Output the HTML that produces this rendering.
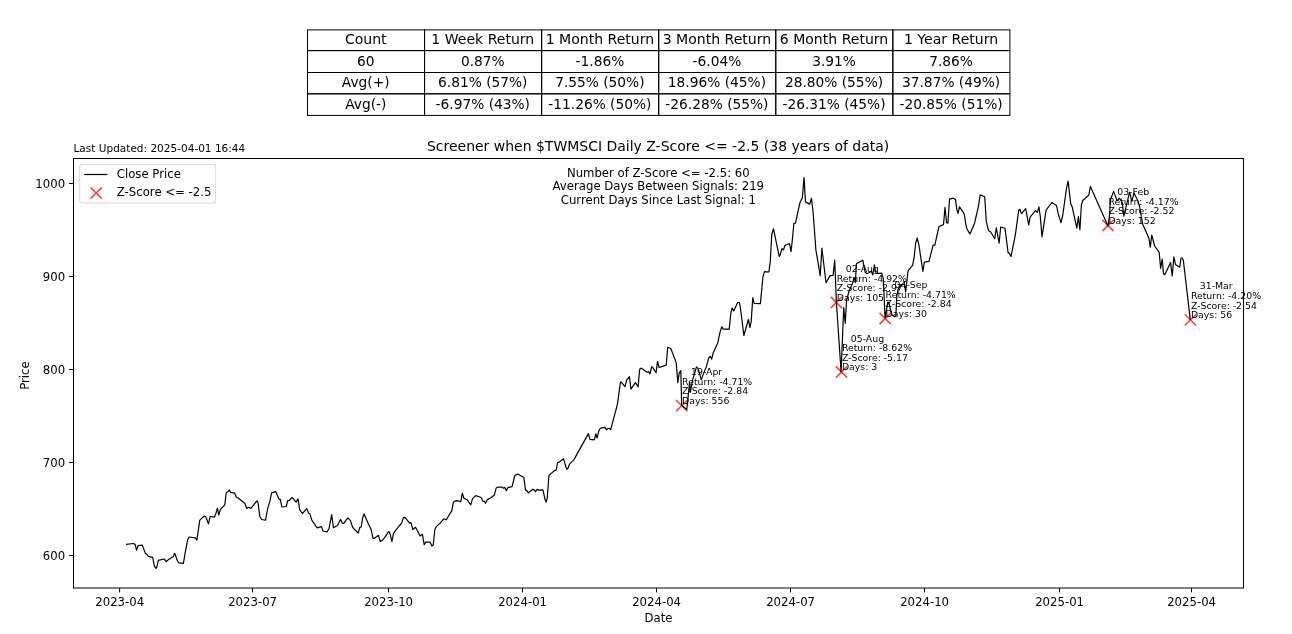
<!DOCTYPE html>
<html lang="en">
<head>
<meta charset="utf-8">
<title>Screener when $TWMSCI Daily Z-Score &lt;= -2.5</title>
<style>
html,body{margin:0;padding:0;background:#fff;}
body{width:1292px;height:634px;overflow:hidden;}
svg{display:block;}
svg text{font-family:"DejaVu Sans", "Liberation Sans", sans-serif;fill:#000;white-space:pre;}
</style>
</head>
<body>
<svg width="1292" height="634" viewBox="0 0 1292 634">
<rect x="0" y="0" width="1292" height="634" fill="#ffffff"/>
<g id="table" stroke="#000" stroke-width="1.0" fill="none">
<rect x="307.50" y="29.90" width="117.07" height="20.70"/>
<rect x="424.57" y="29.90" width="117.07" height="20.70"/>
<rect x="541.63" y="29.90" width="117.07" height="20.70"/>
<rect x="658.70" y="29.90" width="117.07" height="20.70"/>
<rect x="775.77" y="29.90" width="117.07" height="20.70"/>
<rect x="892.83" y="29.90" width="117.07" height="20.70"/>
<rect x="307.50" y="50.60" width="117.07" height="21.90"/>
<rect x="424.57" y="50.60" width="117.07" height="21.90"/>
<rect x="541.63" y="50.60" width="117.07" height="21.90"/>
<rect x="658.70" y="50.60" width="117.07" height="21.90"/>
<rect x="775.77" y="50.60" width="117.07" height="21.90"/>
<rect x="892.83" y="50.60" width="117.07" height="21.90"/>
<rect x="307.50" y="72.50" width="117.07" height="21.30"/>
<rect x="424.57" y="72.50" width="117.07" height="21.30"/>
<rect x="541.63" y="72.50" width="117.07" height="21.30"/>
<rect x="658.70" y="72.50" width="117.07" height="21.30"/>
<rect x="775.77" y="72.50" width="117.07" height="21.30"/>
<rect x="892.83" y="72.50" width="117.07" height="21.30"/>
<rect x="307.50" y="93.80" width="117.07" height="21.60"/>
<rect x="424.57" y="93.80" width="117.07" height="21.60"/>
<rect x="541.63" y="93.80" width="117.07" height="21.60"/>
<rect x="658.70" y="93.80" width="117.07" height="21.60"/>
<rect x="775.77" y="93.80" width="117.07" height="21.60"/>
<rect x="892.83" y="93.80" width="117.07" height="21.60"/>
</g>
<g id="table-text">
<text transform="translate(365.73,43.75) scale(0.9800,1)" font-size="14.35" text-anchor="middle" xml:space="preserve">Count</text>
<text transform="translate(482.80,43.75) scale(0.9800,1)" font-size="14.35" text-anchor="middle" xml:space="preserve">1 Week Return</text>
<text transform="translate(599.87,43.75) scale(0.9800,1)" font-size="14.35" text-anchor="middle" xml:space="preserve">1 Month Return</text>
<text transform="translate(716.93,43.75) scale(0.9800,1)" font-size="14.35" text-anchor="middle" xml:space="preserve">3 Month Return</text>
<text transform="translate(834.00,43.75) scale(0.9800,1)" font-size="14.35" text-anchor="middle" xml:space="preserve">6 Month Return</text>
<text transform="translate(951.07,43.75) scale(0.9800,1)" font-size="14.35" text-anchor="middle" xml:space="preserve">1 Year Return</text>
<text transform="translate(365.73,65.55) scale(0.9600,1)" font-size="14.35" text-anchor="middle" xml:space="preserve">60</text>
<text transform="translate(482.80,65.55) scale(0.9600,1)" font-size="14.35" text-anchor="middle" xml:space="preserve">0.87%</text>
<text transform="translate(599.87,65.55) scale(0.9600,1)" font-size="14.35" text-anchor="middle" xml:space="preserve">-1.86%</text>
<text transform="translate(716.93,65.55) scale(0.9600,1)" font-size="14.35" text-anchor="middle" xml:space="preserve">-6.04%</text>
<text transform="translate(834.00,65.55) scale(0.9600,1)" font-size="14.35" text-anchor="middle" xml:space="preserve">3.91%</text>
<text transform="translate(951.07,65.55) scale(0.9600,1)" font-size="14.35" text-anchor="middle" xml:space="preserve">7.86%</text>
<text transform="translate(365.73,87.15) scale(0.9600,1)" font-size="14.35" text-anchor="middle" xml:space="preserve">Avg(+)</text>
<text transform="translate(482.80,87.15) scale(0.9600,1)" font-size="14.35" text-anchor="middle" xml:space="preserve">6.81% (57%)</text>
<text transform="translate(599.87,87.15) scale(0.9600,1)" font-size="14.35" text-anchor="middle" xml:space="preserve">7.55% (50%)</text>
<text transform="translate(716.93,87.15) scale(0.9600,1)" font-size="14.35" text-anchor="middle" xml:space="preserve">18.96% (45%)</text>
<text transform="translate(834.00,87.15) scale(0.9600,1)" font-size="14.35" text-anchor="middle" xml:space="preserve">28.80% (55%)</text>
<text transform="translate(951.07,87.15) scale(0.9600,1)" font-size="14.35" text-anchor="middle" xml:space="preserve">37.87% (49%)</text>
<text transform="translate(365.73,108.60) scale(0.9600,1)" font-size="14.35" text-anchor="middle" xml:space="preserve">Avg(-)</text>
<text transform="translate(482.80,108.60) scale(0.9600,1)" font-size="14.35" text-anchor="middle" xml:space="preserve">-6.97% (43%)</text>
<text transform="translate(599.87,108.60) scale(0.9600,1)" font-size="14.35" text-anchor="middle" xml:space="preserve">-11.26% (50%)</text>
<text transform="translate(716.93,108.60) scale(0.9600,1)" font-size="14.35" text-anchor="middle" xml:space="preserve">-26.28% (55%)</text>
<text transform="translate(834.00,108.60) scale(0.9600,1)" font-size="14.35" text-anchor="middle" xml:space="preserve">-26.31% (45%)</text>
<text transform="translate(951.07,108.60) scale(0.9600,1)" font-size="14.35" text-anchor="middle" xml:space="preserve">-20.85% (51%)</text>
</g>
<text transform="translate(658.10,151.00) scale(0.9750,1)" font-size="14.35" text-anchor="middle" xml:space="preserve">Screener when $TWMSCI Daily Z-Score &lt;= -2.5 (38 years of data)</text>
<text transform="translate(73.50,151.70) scale(0.9750,1)" font-size="10.80" text-anchor="start" xml:space="preserve">Last Updated: 2025-04-01 16:44</text>
<rect x="73.5" y="158.5" width="1170.0" height="429.5" fill="#fff" stroke="none"/>
<g id="signals" stroke="#ff0000" stroke-opacity="0.74" stroke-width="1.6" stroke-linecap="butt" fill="none">
<path d="M676.05 399.95L687.35 411.25M676.05 411.25L687.35 399.95"/>
<path d="M830.75 296.85L842.05 308.15M830.75 308.15L842.05 296.85"/>
<path d="M835.85 366.35L847.15 377.65M835.85 377.65L847.15 366.35"/>
<path d="M879.55 312.85L890.85 324.15M879.55 324.15L890.85 312.85"/>
<path d="M1102.35 219.85L1113.65 231.15M1102.35 231.15L1113.65 219.85"/>
<path d="M1184.85 314.25L1196.15 325.55M1184.85 325.55L1196.15 314.25"/>
</g>
<polyline id="close" fill="none" stroke="#000" stroke-width="1.2" stroke-linejoin="round" stroke-linecap="butt" points="126.0,544.4 133.6,543.5 135.2,544.6 136.6,550.3 138.0,545.7 142.3,545.1 145.3,553.1 146.7,554.2 148.5,556.4 152.7,557.3 154.3,565.9 155.9,568.4 157.0,566.4 158.3,560.4 164.1,559.0 166.3,561.5 167.9,560.1 173.3,556.6 174.7,553.3 177.5,561.0 179.0,562.9 183.4,563.4 185.3,552.2 187.7,539.7 189.1,537.0 195.1,537.9 196.9,540.1 199.8,520.1 203.3,516.9 204.9,516.1 206.0,517.2 208.5,524.0 210.1,516.3 214.2,517.2 215.8,513.9 217.4,508.2 218.8,515.2 220.4,509.4 224.8,504.8 226.2,492.9 227.8,491.8 229.2,489.9 230.5,492.3 234.6,493.1 236.4,497.2 237.9,497.8 244.9,503.5 246.8,508.6 248.2,507.2 250.9,508.4 256.9,500.8 258.0,502.7 259.9,516.8 261.6,519.5 265.6,520.1 267.6,508.6 269.8,501.6 271.6,492.9 275.7,491.6 279.0,499.2 280.3,499.4 281.9,507.0 286.3,506.5 287.7,500.7 289.2,500.5 292.1,497.4 296.1,502.1 298.1,498.9 299.7,509.7 302.4,513.5 306.8,508.6 308.6,513.3 310.0,513.8 311.7,519.9 317.1,527.9 321.5,526.6 323.0,531.0 327.1,532.0 329.1,528.2 331.7,514.6 333.4,527.7 337.5,525.5 340.5,519.5 342.4,523.3 343.7,523.3 347.8,517.9 350.5,520.6 352.4,526.6 352.4,526.7 353.8,528.8 358.2,533.1 359.8,527.5 361.2,526.9 362.7,517.7 364.1,513.9 368.5,524.2 370.7,528.5 371.4,530.7 372.9,538.1 374.5,538.3 378.5,535.3 380.3,541.6 382.7,540.0 384.6,537.6 388.6,531.6 389.7,532.4 391.9,541.6 393.5,533.4 394.9,531.3 401.7,522.9 403.6,517.4 405.3,517.7 409.3,522.9 411.0,522.6 412.8,529.6 415.3,527.2 416.6,529.1 420.0,536.0 422.4,534.3 424.2,544.7 425.7,542.1 430.0,542.1 431.9,546.0 433.3,544.7 434.7,530.2 436.0,526.9 440.1,523.1 443.8,518.8 446.3,519.8 451.8,510.6 453.4,502.2 455.1,501.1 456.7,500.6 460.8,501.6 462.3,493.2 463.8,498.1 467.0,499.7 470.8,504.8 472.5,498.6 475.7,495.6 481.2,497.5 482.8,501.1 484.4,501.3 485.5,503.3 487.4,499.6 491.4,497.5 494.5,494.7 496.1,488.2 497.4,487.1 501.8,487.1 503.4,488.2 504.8,487.4 506.3,490.7 507.8,487.7 512.1,486.6 514.8,475.5 517.6,474.1 523.9,477.6 525.5,490.1 526.8,490.7 528.4,492.9 532.8,489.3 534.1,489.6 535.5,491.8 537.1,489.3 538.8,490.1 542.9,489.8 545.1,499.6 546.1,502.0 547.2,498.5 548.9,475.5 554.4,470.6 556.2,470.0 557.6,462.8 559.2,462.1 563.6,458.8 565.2,464.8 566.8,469.4 568.0,468.3 569.5,464.2 573.8,459.9 588.4,433.6 590.0,439.4 594.2,439.8 595.8,433.9 597.1,438.0 598.8,430.9 600.2,428.5 601.7,427.8 604.8,427.4 606.4,429.6 609.1,428.2 610.7,429.6 617.4,404.3 620.5,381.8 622.3,383.3 625.0,386.6 626.7,379.8 629.4,376.6 631.0,389.1 635.4,382.6 638.1,386.9 639.7,369.2 641.1,368.1 647.0,372.2 648.4,371.7 649.9,373.9 651.7,366.6 653.0,367.9 656.1,372.8 657.5,361.3 659.1,367.5 666.2,365.1 667.7,347.2 670.8,348.5 676.2,362.6 677.8,382.6 679.2,373.1 680.8,370.6 681.7,405.6 686.8,409.4 689.6,382.4 690.3,392.4 692.7,379.6 696.5,366.8 697.9,368.2 701.2,379.6 706.4,366.4 708.8,357.8 710.3,356.4 711.7,359.2 713.1,353.1 717.6,343.3 720.1,331.9 721.8,326.8 723.1,329.2 729.2,329.2 730.8,313.4 732.1,308.0 733.8,310.9 737.6,302.5 739.4,302.5 740.5,308.5 743.9,335.5 748.4,319.4 749.9,327.6 751.2,321.6 752.8,297.6 754.1,303.3 760.4,303.6 762.9,277.2 764.5,271.6 768.9,272.0 770.3,260.9 771.8,234.2 773.5,228.8 779.2,256.4 780.3,254.4 781.9,248.7 783.5,249.8 784.9,245.7 786.3,244.8 789.5,243.5 791.0,251.7 792.2,241.3 793.9,223.4 795.5,223.1 799.7,203.5 802.4,197.6 804.0,177.4 805.5,201.9 809.7,204.1 811.5,198.3 813.1,212.2 815.9,250.0 820.2,275.6 821.9,248.2 826.0,282.7 830.1,275.6 833.1,275.3 834.7,260.1 836.4,302.5 841.1,371.9 843.7,307.6 845.2,323.3 846.6,300.2 849.2,290.5 852.5,283.5 854.2,277.7 855.4,282.4 856.4,263.8 862.8,260.2 865.1,272.0 867.0,273.7 869.9,272.3 871.3,271.1 872.7,274.9 874.4,264.9 876.0,273.5 881.7,273.2 883.3,278.7 885.1,318.2 887.8,302.2 889.0,302.8 891.6,314.5 894.5,316.8 895.9,315.4 896.8,295.6 898.2,288.9 901.1,285.1 904.4,284.2 905.7,291.8 907.9,272.0 908.4,270.4 912.7,265.1 914.1,257.7 915.7,242.8 917.2,237.9 919.0,245.5 922.9,271.5 924.3,262.1 929.0,261.4 933.1,245.2 934.8,245.2 939.0,226.5 943.5,224.6 945.0,207.4 946.6,222.7 947.9,223.2 949.5,199.2 953.3,198.2 955.5,199.6 956.8,209.6 958.0,213.4 959.5,206.9 964.2,213.9 965.9,224.8 967.0,229.0 969.9,233.9 974.6,223.2 978.4,206.3 980.2,194.9 984.7,196.8 986.2,220.5 987.4,226.5 988.7,230.8 990.6,231.7 994.7,238.8 996.3,227.9 999.1,243.1 1000.7,227.0 1005.0,228.3 1008.1,252.6 1009.2,253.1 1011.0,256.6 1015.4,234.6 1018.7,210.1 1020.0,209.4 1021.4,213.6 1025.7,208.7 1028.7,224.8 1030.1,217.2 1035.4,210.7 1037.4,212.3 1038.9,206.8 1040.3,216.6 1042.0,236.8 1046.1,210.1 1051.8,202.5 1056.5,205.5 1058.1,213.4 1061.0,222.6 1062.7,215.5 1066.5,188.3 1068.1,181.2 1070.8,204.1 1072.2,206.8 1076.8,228.1 1078.4,216.6 1079.9,229.7 1081.4,204.7 1082.8,200.5 1088.8,195.1 1090.4,186.4 1108.0,225.9 1109.5,215.5 1110.6,199.2 1113.6,191.4 1117.1,200.8 1119.3,198.1 1122.3,202.5 1123.8,216.1 1129.6,192.1 1131.8,201.4 1134.0,193.2 1137.2,199.2 1139.2,204.7 1140.8,213.4 1142.7,224.2 1148.8,237.9 1150.3,247.1 1151.8,235.1 1154.6,246.0 1159.2,252.3 1160.6,268.3 1162.2,259.1 1163.5,273.8 1164.8,274.7 1170.6,262.4 1172.2,276.0 1173.9,256.9 1175.5,264.5 1179.7,267.2 1181.0,258.0 1182.3,258.0 1183.4,260.7 1190.3,319.9"/>
<g id="annotations">
<text transform="translate(682.10,375.10) scale(0.9750,1)" font-size="9.58" text-anchor="start" xml:space="preserve">   19-Apr</text>
<text transform="translate(682.10,384.70) scale(0.9750,1)" font-size="9.58" text-anchor="start" xml:space="preserve">Return: -4.71%</text>
<text transform="translate(682.10,394.30) scale(0.9750,1)" font-size="9.58" text-anchor="start" xml:space="preserve">Z-Score: -2.84</text>
<text transform="translate(682.10,403.90) scale(0.9750,1)" font-size="9.58" text-anchor="start" xml:space="preserve">Days: 556</text>
<text transform="translate(836.80,272.00) scale(0.9750,1)" font-size="9.58" text-anchor="start" xml:space="preserve">   02-Aug</text>
<text transform="translate(836.80,281.60) scale(0.9750,1)" font-size="9.58" text-anchor="start" xml:space="preserve">Return: -4.92%</text>
<text transform="translate(836.80,291.20) scale(0.9750,1)" font-size="9.58" text-anchor="start" xml:space="preserve">Z-Score: -2.97</text>
<text transform="translate(836.80,300.80) scale(0.9750,1)" font-size="9.58" text-anchor="start" xml:space="preserve">Days: 105</text>
<text transform="translate(841.90,341.50) scale(0.9750,1)" font-size="9.58" text-anchor="start" xml:space="preserve">   05-Aug</text>
<text transform="translate(841.90,351.10) scale(0.9750,1)" font-size="9.58" text-anchor="start" xml:space="preserve">Return: -8.62%</text>
<text transform="translate(841.90,360.70) scale(0.9750,1)" font-size="9.58" text-anchor="start" xml:space="preserve">Z-Score: -5.17</text>
<text transform="translate(841.90,370.30) scale(0.9750,1)" font-size="9.58" text-anchor="start" xml:space="preserve">Days: 3</text>
<text transform="translate(885.60,288.00) scale(0.9750,1)" font-size="9.58" text-anchor="start" xml:space="preserve">   04-Sep</text>
<text transform="translate(885.60,297.60) scale(0.9750,1)" font-size="9.58" text-anchor="start" xml:space="preserve">Return: -4.71%</text>
<text transform="translate(885.60,307.20) scale(0.9750,1)" font-size="9.58" text-anchor="start" xml:space="preserve">Z-Score: -2.84</text>
<text transform="translate(885.60,316.80) scale(0.9750,1)" font-size="9.58" text-anchor="start" xml:space="preserve">Days: 30</text>
<text transform="translate(1108.40,195.00) scale(0.9750,1)" font-size="9.58" text-anchor="start" xml:space="preserve">   03-Feb</text>
<text transform="translate(1108.40,204.60) scale(0.9750,1)" font-size="9.58" text-anchor="start" xml:space="preserve">Return: -4.17%</text>
<text transform="translate(1108.40,214.20) scale(0.9750,1)" font-size="9.58" text-anchor="start" xml:space="preserve">Z-Score: -2.52</text>
<text transform="translate(1108.40,223.80) scale(0.9750,1)" font-size="9.58" text-anchor="start" xml:space="preserve">Days: 152</text>
<text transform="translate(1190.90,289.40) scale(0.9750,1)" font-size="9.58" text-anchor="start" xml:space="preserve">   31-Mar</text>
<text transform="translate(1190.90,299.00) scale(0.9750,1)" font-size="9.58" text-anchor="start" xml:space="preserve">Return: -4.20%</text>
<text transform="translate(1190.90,308.60) scale(0.9750,1)" font-size="9.58" text-anchor="start" xml:space="preserve">Z-Score: -2.54</text>
<text transform="translate(1190.90,318.20) scale(0.9750,1)" font-size="9.58" text-anchor="start" xml:space="preserve">Days: 56</text>
</g>
<rect x="73.5" y="158.5" width="1170.0" height="429.5" fill="none" stroke="#000" stroke-width="1"/>
<g id="ticks" stroke="#000" stroke-width="1">
<line x1="119.6" y1="588.0" x2="119.6" y2="592.4"/>
<line x1="252.5" y1="588.0" x2="252.5" y2="592.4"/>
<line x1="388.5" y1="588.0" x2="388.5" y2="592.4"/>
<line x1="522.5" y1="588.0" x2="522.5" y2="592.4"/>
<line x1="656.5" y1="588.0" x2="656.5" y2="592.4"/>
<line x1="790.5" y1="588.0" x2="790.5" y2="592.4"/>
<line x1="924.5" y1="588.0" x2="924.5" y2="592.4"/>
<line x1="1059.5" y1="588.0" x2="1059.5" y2="592.4"/>
<line x1="1191.5" y1="588.0" x2="1191.5" y2="592.4"/>
<line x1="69.1" y1="183.5" x2="73.5" y2="183.5"/>
<line x1="69.1" y1="276.5" x2="73.5" y2="276.5"/>
<line x1="69.1" y1="369.5" x2="73.5" y2="369.5"/>
<line x1="69.1" y1="462.5" x2="73.5" y2="462.5"/>
<line x1="69.1" y1="555.5" x2="73.5" y2="555.5"/>
</g>
<g id="ticklabels">
<text transform="translate(119.70,605.80) scale(0.9750,1)" font-size="12.00" text-anchor="middle" xml:space="preserve">2023-04</text>
<text transform="translate(252.60,605.80) scale(0.9750,1)" font-size="12.00" text-anchor="middle" xml:space="preserve">2023-07</text>
<text transform="translate(388.60,605.80) scale(0.9750,1)" font-size="12.00" text-anchor="middle" xml:space="preserve">2023-10</text>
<text transform="translate(522.60,605.80) scale(0.9750,1)" font-size="12.00" text-anchor="middle" xml:space="preserve">2024-01</text>
<text transform="translate(656.60,605.80) scale(0.9750,1)" font-size="12.00" text-anchor="middle" xml:space="preserve">2024-04</text>
<text transform="translate(790.60,605.80) scale(0.9750,1)" font-size="12.00" text-anchor="middle" xml:space="preserve">2024-07</text>
<text transform="translate(924.60,605.80) scale(0.9750,1)" font-size="12.00" text-anchor="middle" xml:space="preserve">2024-10</text>
<text transform="translate(1059.60,605.80) scale(0.9750,1)" font-size="12.00" text-anchor="middle" xml:space="preserve">2025-01</text>
<text transform="translate(1191.60,605.80) scale(0.9750,1)" font-size="12.00" text-anchor="middle" xml:space="preserve">2025-04</text>
<text transform="translate(65.10,188.40) scale(0.9750,1)" font-size="12.00" text-anchor="end" xml:space="preserve">1000</text>
<text transform="translate(65.10,281.40) scale(0.9750,1)" font-size="12.00" text-anchor="end" xml:space="preserve">900</text>
<text transform="translate(65.10,374.40) scale(0.9750,1)" font-size="12.00" text-anchor="end" xml:space="preserve">800</text>
<text transform="translate(65.10,467.40) scale(0.9750,1)" font-size="12.00" text-anchor="end" xml:space="preserve">700</text>
<text transform="translate(65.10,560.40) scale(0.9750,1)" font-size="12.00" text-anchor="end" xml:space="preserve">600</text>
</g>
<text transform="translate(658.50,622.00) scale(0.9750,1)" font-size="12.00" text-anchor="middle" xml:space="preserve">Date</text>
<text transform="translate(28.50,375.60) rotate(-90) scale(0.9750,1)" font-size="12.00" text-anchor="middle" xml:space="preserve">Price</text>
<g id="stats">
<text transform="translate(658.30,176.60) scale(0.9750,1)" font-size="12.00" text-anchor="middle" xml:space="preserve">Number of Z-Score &lt;= -2.5: 60</text>
<text transform="translate(658.30,190.10) scale(0.9750,1)" font-size="12.00" text-anchor="middle" xml:space="preserve">Average Days Between Signals: 219</text>
<text transform="translate(658.30,203.60) scale(0.9750,1)" font-size="12.00" text-anchor="middle" xml:space="preserve">Current Days Since Last Signal: 1</text>
</g>
<g id="legend">
<rect x="79.7" y="164.6" width="136" height="38.4" rx="2.2" ry="2.2" fill="#fff" fill-opacity="0.8" stroke="#ccc" stroke-opacity="0.8" stroke-width="1"/>
<line x1="84.2" y1="174.5" x2="107.3" y2="174.5" stroke="#000" stroke-width="1.2"/>
<path d="M90.55 187.35L101.85 198.65M90.55 198.65L101.85 187.35" stroke="#ff0000" stroke-opacity="0.74" stroke-width="1.6" fill="none"/>
<text transform="translate(116.80,178.00) scale(0.9750,1)" font-size="12.00" text-anchor="start" xml:space="preserve">Close Price</text>
<text transform="translate(116.80,196.10) scale(0.9750,1)" font-size="12.00" text-anchor="start" xml:space="preserve">Z-Score &lt;= -2.5</text>
</g>
</svg>
</body>
</html>
